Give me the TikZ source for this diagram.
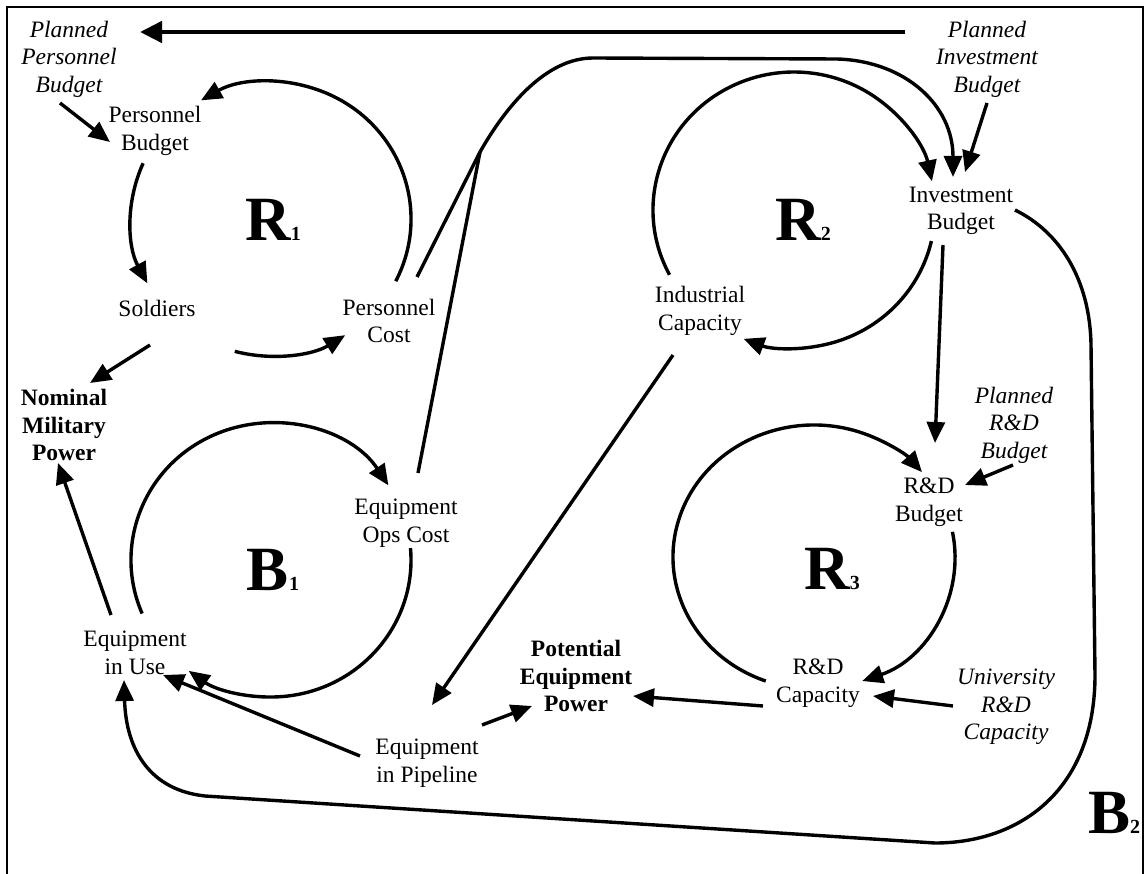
\documentclass[tikz,border=0pt]{standalone}
\usepackage{fontspec}
\setmainfont{Liberation Serif}
\usetikzlibrary{arrows.meta}
\begin{document}
\begin{tikzpicture}[x=1pt,y=-1pt,
  lbl/.style={font=\fontsize{23.5}{27.5}\selectfont, align=center, inner sep=0pt},
  ilbl/.style={lbl, font=\fontsize{23.5}{27.5}\selectfont\itshape},
  blbl/.style={lbl, font=\fontsize{23.5}{27.5}\selectfont\bfseries},
  loopl/.style={inner sep=0pt},
  wire/.style={line width=3.4pt},
  arr/.style={wire, -{Triangle[length=21pt,width=18pt]}},
  bigarr/.style={line width=4.7pt, -{Triangle[length=22pt,width=21pt]}},
  frame/.style={line width=2pt}
]
\useasboundingbox (0,0) rectangle (1145,874);
\draw[frame] (7,880) -- (7,7) -- (1143,7) -- (1143,880);

% variables
\node[ilbl] (ppb) at (69,59) {Planned\\Personnel\\Budget};
\node[lbl] (pb) at (155,131) {Personnel\\Budget};
\node[lbl] (sol) at (157,308) {Soldiers};
\node[lbl] (pc) at (389,321) {Personnel\\Cost};
\node[blbl] (nmp) at (64,425) {Nominal\\Military\\Power};
\node[lbl] (eoc) at (406,523) {Equipment\\Ops Cost};
\node[lbl] (eiu) at (135,653) {Equipment\\in Use};
\node[lbl] (eip) at (427,763) {Equipment\\in Pipeline};
\node[blbl] (pep) at (576,676) {Potential\\Equipment\\Power};
\node[lbl] (rdc) at (818,683) {R\&D\\Capacity};
\node[ilbl] (urdc) at (1006,707) {University\\R\&D\\Capacity};
\node[lbl] (rdb) at (929,502) {R\&D\\Budget};
\node[ilbl] (prdb) at (1014,425) {Planned\\R\&D\\Budget};
\node[lbl] (ic) at (700,311) {Industrial\\Capacity};
\node[lbl] (ib) at (961,211) {Investment\\Budget};
\node[ilbl] (pib) at (987,59) {Planned\\Investment\\Budget};

% loop labels
\newcommand{\looplab}[2]{{\fontsize{63}{63}\selectfont\bfseries #1}{\fontsize{20}{20}\selectfont\bfseries #2}}
\node[loopl] (r1) at (273,220) {\looplab{R}{1}};
\node[loopl] (r2) at (803,220) {\looplab{R}{2}};
\node[loopl] (b1) at (273,570) {\looplab{B}{1}};
\node[loopl] (r3) at (832,569) {\looplab{R}{3}};
\node[loopl] (b2) at (1114,813) {\looplab{B}{2}};

% loop centres
\coordinate (c1) at (271,219);
\coordinate (cb1) at (271,560);
\coordinate (c2) at (794,210);
\coordinate (c3) at (814,557);
\coordinate (J) at (480,152);

% R1 loop
\draw[arr] ([shift={(27:140 and 137)}]c1) arc[start angle=27,end angle=-120,x radius=140,y radius=137];
\draw[arr] ([shift={(204:140 and 137)}]c1) arc[start angle=204,end angle=152,x radius=140,y radius=137];
\draw[arr] ([shift={(105:140 and 137)}]c1) arc[start angle=105,end angle=58,x radius=140,y radius=137];

% B1 loop
\draw[arr] ([shift={(157:140 and 137)}]cb1) arc[start angle=157,end angle=327,x radius=140,y radius=137];
\draw[arr] ([shift={(-5:140 and 137)}]cb1) arc[start angle=-5,end angle=126,x radius=140,y radius=137];

% R2 loop
\draw[arr] ([shift={(152:141 and 138)}]c2) arc[start angle=152,end angle=348,x radius=141,y radius=138];
\draw[arr] ([shift={(13:141 and 138)}]c2) arc[start angle=13,end angle=111,x radius=141,y radius=138];

% R3 loop
\draw[arr] ([shift={(110:141 and 132)}]c3) arc[start angle=110,end angle=320,x radius=141,y radius=132];
\draw[arr] ([shift={(-11:141 and 132)}]c3) arc[start angle=-11,end angle=70,x radius=141,y radius=132];

% top arrow
\draw[bigarr] ([shift={(-82,-27)}]pib.center) -- ([shift={(71,-27)}]ppb.center);

% straight links
\draw[arr] ([shift={(-9,44)}]ppb.center) -- ([shift={(-45,11)}]pb.center);
\draw[arr] ([shift={(-7,37)}]sol.center) -- ([shift={(26,-42)}]nmp.center);
\draw[arr] ([shift={(-24,-38)}]eiu.center) -- ([shift={(-6,38)}]nmp.center);
\draw[arr] ([shift={(-67,-7)}]eip.center) -- ([shift={(28,22)}]eiu.center);
\draw[arr] ([shift={(-27,44)}]ic.center) -- ([shift={(5,-58)}]eip.center);
\draw[arr] ([shift={(55,-38)}]eip.center) -- ([shift={(-44,30)}]pep.center);
\draw[arr] ([shift={(-55,23)}]rdc.center) -- ([shift={(57,20)}]pep.center);
\draw[arr] ([shift={(-53,-1)}]urdc.center) -- ([shift={(55,13)}]rdc.center);
\draw[arr] ([shift={(-18,34)}]ib.center) -- ([shift={(6,-59)}]rdb.center);
\draw[arr] ([shift={(-1,40)}]prdb.center) -- ([shift={(36,-17)}]rdb.center);
\draw[arr] ([shift={(0,44)}]pib.center) -- ([shift={(4,-39)}]ib.center);

% costs to investment budget
\draw[wire] ([shift={(28,-44)}]pc.center) -- (J);
\draw[wire] ([shift={(12,-50)}]eoc.center) -- (J);
\draw[arr] (J) .. controls (505,108) and (545,58) .. (593,58) -- (837,59)
  .. controls (905,61) and (953,105) .. ([shift={(-8,-34)}]ib.center);

% B2 loop
\draw[arr] ([shift={(54,-1)}]ib.center) .. controls (1060,232) and (1090,280) .. (1091,345)
  -- (1095,675) .. controls (1095,790) and (1020,843) .. (935,843)
  -- (205,796) .. controls (150,790) and (126,750) .. ([shift={(-11,27)}]eiu.center);
\end{tikzpicture}
\end{document}
